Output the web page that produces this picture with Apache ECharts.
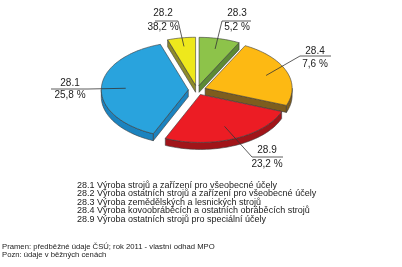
<!DOCTYPE html>
<html>
<head>
<meta charset="utf-8">
<script src="https://cdn.jsdelivr.net/npm/echarts@6/dist/echarts.min.js"></script>
<style>
html,body{margin:0;padding:0;background:#fff;}
#c{width:402px;height:267px;}
</style>
</head>
<body>
<div id="c"></div>
<script>
// Slice sizes as drawn, clockwise from 12 o'clock
const codes = ['28.3', '28.4', '28.9', '28.1', '28.2'];
const shares = [7.6, 23.2, 25.8, 38.2, 5.2];
// Percentage texts printed next to each slice (as in the source)
const pctLabels = ['5,2 %', '7,6 %', '23,2 %', '25,8 %', '38,2 %'];
const topColors = ['#8dc34a', '#fdb913', '#ec1c24', '#29a3dd', '#eee81c'];
const sideColors = ['#5b8a34', '#7d5d1e', '#a11419', '#1b83bf', '#8e8b2b'];
const legendLines = [
  '28.1 Výroba strojů a zařízení pro všeobecné účely',
  '28.2 Výroba ostatních strojů a zařízení pro všeobecné účely',
  '28.3 Výroba zemědělských a lesnických strojů',
  '28.4 Výroba kovoobráběcích a ostatních obráběcích strojů',
  '28.9 Výroba ostatních strojů pro speciální účely'
];
const notes = [
  'Pramen: předběžné údaje ČSÚ; rok 2011 - vlastní odhad MPO',
  'Pozn: údaje v běžných cenách'
];

// layout
const CX = 197, CY = 90, RX = 87, RY = 48, DEPTH = 7, EXPLODE = 0.1;
// label layout: [centerX, codeY, pctY, lineX1, lineX2, lineY, attach side, leader depth]
const labelLayout = [
  [237, 13, 27, 222, 251, 21, 'L', 0.78],
  [315, 51, 64, 300, 331, 56, 'L', 0.75],
  [267, 150, 164, 252, 283, 157, 'L', 0.72],
  [70, 83, 95, 51, 88, 89, 'R', 0.72],
  [163, 13, 27, 155, 178, 21, 'R', 0.82]
];
const FONT = '"Liberation Sans", Arial, sans-serif';

const total = shares.reduce((a, b) => a + b, 0);
const rad = d => d * Math.PI / 180;

function renderItem(params, api) {
  const i = params.dataIndex;
  let before = 0;
  for (let k = 0; k < i; k++) before += shares[k];
  const a = before / total * 360;
  const b = (before + api.value(0)) / total * 360;
  const mid = (a + b) / 2;
  const ox = EXPLODE * RX * Math.sin(rad(mid));
  const oy = -EXPLODE * RY * Math.cos(rad(mid));
  const P = (t, f, dy) => [CX + ox + f * RX * Math.sin(rad(t)), CY + oy - f * RY * Math.cos(rad(t)) + (dy || 0)];
  const C = P(0, 0, 0), Cd = P(0, 0, DEPTH);
  const base = Math.round((-Math.cos(rad(mid)) + 2) * 100);
  const children = [];
  const stroke = { stroke: '#3b3b3b', lineWidth: 0.6, lineJoin: 'round' };
  // radial cut faces
  if (Math.sin(rad(a)) < -1e-6) {
    children.push({ type: 'polygon', z2: base, shape: { points: [C, P(a, 1), P(a, 1, DEPTH), Cd] },
      style: Object.assign({ fill: sideColors[i] }, stroke) });
  }
  if (Math.sin(rad(b)) > 1e-6) {
    children.push({ type: 'polygon', z2: base, shape: { points: [C, P(b, 1), P(b, 1, DEPTH), Cd] },
      style: Object.assign({ fill: sideColors[i] }, stroke) });
  }
  // outer wall (front half)
  const w1 = Math.max(a, 90), w2 = Math.min(b, 270);
  if (w2 > w1) {
    const topArc = [], botArc = [];
    const n = Math.max(2, Math.ceil((w2 - w1) / 2));
    for (let s = 0; s <= n; s++) {
      const t = w1 + (w2 - w1) * s / n;
      topArc.push(P(t, 1));
      botArc.push(P(t, 1, DEPTH));
    }
    children.push({ type: 'polygon', z2: base + 1, shape: { points: topArc.concat(botArc.reverse()) },
      style: Object.assign({ fill: sideColors[i] }, stroke) });
  }
  // top face
  const pts = [C];
  const n = Math.max(2, Math.ceil((b - a) / 2));
  for (let s = 0; s <= n; s++) pts.push(P(a + (b - a) * s / n, 1));
  children.push({ type: 'polygon', z2: base + 2, shape: { points: pts },
    style: Object.assign({ fill: topColors[i] }, stroke) });

  // label
  const L = labelLayout[i];
  const inner = P(mid, L[7]);
  const attach = L[6] === 'L' ? [L[3], L[5]] : [L[4], L[5]];
  const ls = { stroke: '#333', lineWidth: 0.8 };
  children.push({ type: 'line', z2: 1000, shape: { x1: L[3], y1: L[5], x2: L[4], y2: L[5] }, style: ls });
  children.push({ type: 'polyline', z2: 1000, shape: { points: [attach, inner] }, style: Object.assign({ fill: null }, ls) });
  children.push({ type: 'text', z2: 1000, style: { text: codes[i], x: L[0], y: L[1], align: 'center', verticalAlign: 'middle',
    fill: '#222', font: '10px ' + FONT } });
  children.push({ type: 'text', z2: 1000, style: { text: pctLabels[i], x: L[0], y: L[2], align: 'center', verticalAlign: 'middle',
    fill: '#222', font: '10px ' + FONT } });
  return { type: 'group', children: children };
}

const graphics = [];
legendLines.forEach((t, k) => {
  graphics.push({ type: 'text', left: 77, top: 181 + k * 8.4,
    style: { text: t, fill: '#222', font: '9px ' + FONT } });
});
notes.forEach((t, k) => {
  graphics.push({ type: 'text', left: 2, top: 243 + k * 8.2,
    style: { text: t, fill: '#222', font: '7.7px ' + FONT } });
});

const chart = echarts.init(document.getElementById('c'), null, { renderer: 'canvas' });
chart.setOption({
  backgroundColor: '#ffffff',
  animation: false,
  series: [{
    type: 'custom',
    coordinateSystem: 'none',
    renderItem: renderItem,
    data: shares.map((v, k) => [v, k])
  }],
  graphic: graphics
});
</script>
</body>
</html>
